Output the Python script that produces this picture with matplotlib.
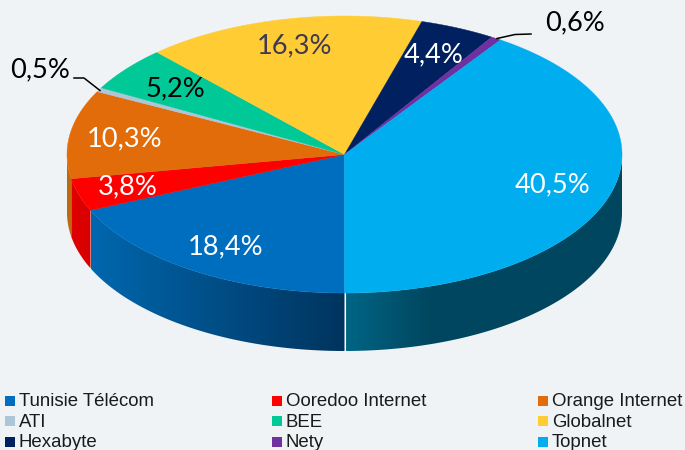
import numpy as np
import matplotlib
matplotlib.use("Agg")
import matplotlib.pyplot as plt
from matplotlib.patches import Polygon, Rectangle
from matplotlib.colors import LinearSegmentedColormap

names = ["Tunisie Télécom", "Ooredoo Internet", "Orange Internet", "ATI", "BEE",
         "Globalnet", "Hexabyte", "Nety", "Topnet"]
shares = [18.4, 3.8, 10.3, 0.5, 5.2, 16.3, 4.4, 0.6, 40.5]
colors = ["#006EBF", "#FF0000", "#E36C0A", "#ACC6D6", "#00C896",
          "#FFCC33", "#002060", "#7030A0", "#00AEEF"]
label_colors = ["white", "white", "white", "black", "black",
                "#3F3857", "white", "black", "white"]
labels = ["18,4%", "3,8%", "10,3%", "0,5%", "5,2%", "16,3%", "4,4%", "0,6%", "40,5%"]

BG = "#EFF3F5"
CX, CY, RX, RY, DEPTH = 344.5, 154.5, 277.5, 138.5, 58
LABEL_POS = [(226, 247), (128, 187), (125, 139), (40, 70), (175, 89),
             (295, 46), (434, 55), (575, 23), (553, 185)]
side_ramps = {0: ("#0067AE", "#00345E"), 1: ("#E00000", "#D60000"),
              2: ("#B86A10", "#C46A10"), 8: ("#006585", "#00465F")}

fig = plt.figure(figsize=(6.85, 4.5), dpi=100, facecolor=BG)
ax = fig.add_axes([0, 0, 1, 1])
ax.set_facecolor(BG)
ax.axis("off")


def rim(a0, a1, depth=0.0):
    t = np.radians(np.linspace(a0, a1, max(int(abs(a1 - a0) * 4), 2)))
    return CX - RX * np.sin(t), CY + RY * np.cos(t) + depth


edges = 3.6 * np.concatenate([[0], np.cumsum(shares)])
edges[-1] = 360.0

# sides (gradient clipped to the visible wall)
for i, (c0, c1) in side_ramps.items():
    a0, a1 = edges[i], edges[i + 1]
    if i == 2:
        a1 = 90.0
    if i == 8:
        a0, a1 = 270.0, 360.0
    x, y = rim(a0, a1)
    xb, yb = rim(a0, a1, DEPTH)
    poly = Polygon(np.column_stack([np.r_[x, xb[::-1]], np.r_[y, yb[::-1]]]),
                   closed=True, fc="none", ec="none", transform=ax.transData)
    ax.add_patch(poly)
    x0, x1 = min(x.min(), xb.min()), max(x.max(), xb.max())
    if i == 8:
        cmap = LinearSegmentedColormap.from_list("s", [(0, c0), (0.31, c1), (1, c1)])
    else:
        cmap = LinearSegmentedColormap.from_list("s", [(0, c0), (1, c1)])
    im = ax.imshow(np.linspace(0, 1, 512).reshape(1, -1), cmap=cmap, aspect="auto",
                   extent=(x0, x1, CY + RY + DEPTH + 5, CY - 5), zorder=1,
                   interpolation="bilinear")
    im.set_clip_path(poly)

# white seam where wall sections meet
ax.plot([CX + 1, CX + 1], [CY + RY, CY + RY + DEPTH], color="white", lw=0.8, zorder=2)

# top faces
for i, c in enumerate(colors):
    x, y = rim(edges[i], edges[i + 1])
    pts = np.column_stack([np.r_[CX, x], np.r_[CY, y]])
    ax.add_patch(Polygon(pts, closed=True, fc=c, ec=c, lw=0.3, zorder=3))

# leader lines
leader_0 = ([74, 84, 100], [78, 78, 90.5])
leader_1 = ([531, 515, 497], [34, 34.5, 38.5])
ax.plot(*leader_0, color="black", lw=1.1, zorder=4)
ax.plot(*leader_1, color="black", lw=1.1, zorder=4)

# value labels
for (px, py), s, c in zip(LABEL_POS, labels, label_colors):
    ax.text(px, py, s, color=c, fontsize=19.6, family="Lato", fontweight="regular",
            ha="center", va="center", zorder=5)

# legend
col_x = [5, 272, 538]
row_y = [400.5, 421, 441.5]
for i, (n, c) in enumerate(zip(names, colors)):
    row, col = i // 3, i % 3
    ax.add_patch(Rectangle((col_x[col], row_y[row] - 5), 10, 10, fc=c, ec="none", zorder=5))
    ax.text(col_x[col] + 14, row_y[row] + 1.2, n, family="Liberation Sans", fontsize=13.4,
            color="#1A1A1A", ha="left", va="center", zorder=5)

ax.set_xlim(0, 685)
ax.set_ylim(450, 0)
fig.savefig("out.png", dpi=100, facecolor=BG)
